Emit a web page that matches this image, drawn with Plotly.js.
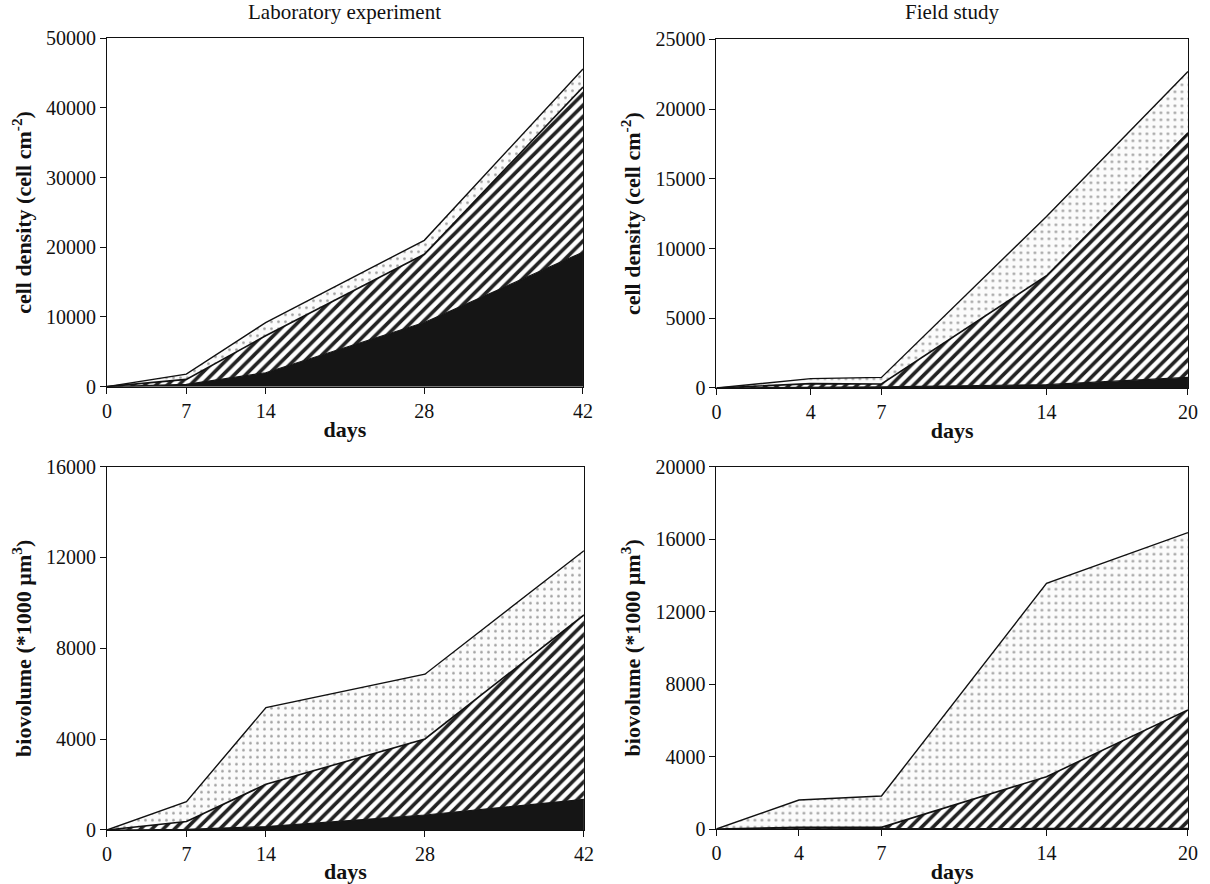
<!DOCTYPE html>
<html>
<head>
<meta charset="utf-8">
<script src="https://cdn.plot.ly/plotly-3.0.1.min.js"></script>
<style>html,body{margin:0;padding:0;background:#fff;}#chart{width:1210px;height:884px;}</style>
</head>
<body>
<div id="chart"></div>
<script>
// ---- data ----
const labDays = [0, 7, 14, 28, 42];
const labDayLabels = ["0", "7", "14", "28", "42"];
const fieldDaysTop = [0, 4, 7, 14, 20];
const fieldDaysBottom = [0, 3.5, 7, 14, 20];
const fieldDayLabels = ["0", "4", "7", "14", "20"];

// cell density, laboratory (layer values, stacked)
const labCellSolid  = [0, 330, 2000, 9200, 19300];
const labCellHatch  = [0, 720, 5300, 9800, 23700];
const labCellDots   = [0, 750, 1900, 2000, 2600];

// cell density, field
const fieldCellSolid = [0, 60, 80, 240, 760];
const fieldCellHatch = [0, 250, 210, 7810, 17540];
const fieldCellDots  = [0, 360, 470, 4250, 4400];

// biovolume, laboratory
const labBioSolid = [0, 30, 150, 660, 1350];
const labBioHatch = [0, 340, 1860, 3350, 8120];
const labBioDots  = [0, 880, 3380, 2850, 2830];

// biovolume, field
const fieldBioSolid = [0, 20, 20, 30, 40];
const fieldBioHatch = [0, 70, 70, 2860, 6530];
const fieldBioDots  = [0, 1510, 1730, 10670, 9790];

// ---- styling ----
const FONT = "Liberation Serif, Times New Roman, serif";
function layerTraces(x, solid, hatch, dots, xa, ya, grp) {
  return [
    {x: x, y: solid, xaxis: xa, yaxis: ya, stackgroup: grp, type: 'scatter', mode: 'lines',
     line: {color: '#151515', width: 1.2}, fillcolor: '#151515', hoverinfo: 'skip'},
    {x: x, y: hatch, xaxis: xa, yaxis: ya, stackgroup: grp, type: 'scatter', mode: 'lines',
     line: {color: '#111', width: 1.6}, fillcolor: '#ffffff',
     fillpattern: {shape: '/', size: 8, solidity: 0.45, fgcolor: '#222', bgcolor: '#ffffff'}, hoverinfo: 'skip'},
    {x: x, y: dots, xaxis: xa, yaxis: ya, stackgroup: grp, type: 'scatter', mode: 'lines',
     line: {color: '#111', width: 1.4}, fillcolor: '#ffffff',
     fillpattern: {shape: '.', size: 7, solidity: 0.12, fgcolor: '#9a9a9a', bgcolor: '#fbfbfb'}, hoverinfo: 'skip'}
  ];
}

const data = [].concat(
  layerTraces(labDays, labCellSolid, labCellHatch, labCellDots, 'x', 'y', 'a'),
  layerTraces(fieldDaysTop, fieldCellSolid, fieldCellHatch, fieldCellDots, 'x2', 'y2', 'b'),
  layerTraces(labDays, labBioSolid, labBioHatch, labBioDots, 'x3', 'y3', 'c'),
  layerTraces(fieldDaysBottom, fieldBioSolid, fieldBioHatch, fieldBioDots, 'x4', 'y4', 'd')
);

const tickFont = {family: FONT, size: 20, color: '#111'};
const titleFont = {family: FONT, size: 22, color: '#111'};

function xAxis(domain, anchor, vals, labels, maxv) {
  return {domain: domain, anchor: anchor, range: [0, maxv], tickvals: vals, ticktext: labels,
    showline: true, linecolor: '#111', linewidth: 1, mirror: true, ticks: 'outside', ticklen: 6,
    tickcolor: '#111', showgrid: false, zeroline: false, tickfont: tickFont,
    title: {text: '<b>days</b>', font: titleFont, standoff: 0}};
}
function yAxis(domain, anchor, maxv, dt, title) {
  return {domain: domain, anchor: anchor, range: [0, maxv], dtick: dt, tick0: 0,
    showline: true, linecolor: '#111', linewidth: 1, mirror: true, ticks: 'outside', ticklen: 6,
    tickcolor: '#111', showgrid: false, zeroline: false, tickfont: tickFont,
    tickformat: 'd',
    title: {text: title, font: titleFont, standoff: 8}};
}

const layout = {
  width: 1210, height: 884,
  margin: {l: 0, r: 0, t: 0, b: 0},
  paper_bgcolor: '#fff', plot_bgcolor: '#fff',
  showlegend: false,
  xaxis:  xAxis([0.0884, 0.4818], 'y',  labDays, labDayLabels, 42),
  yaxis:  yAxis([0.5626, 0.9567], 'x',  50000, 10000, '<b>cell density (cell cm<sup>-2</sup>)</b>'),
  xaxis2: xAxis([0.5921, 0.9818], 'y2', fieldDaysTop, fieldDayLabels, 20),
  yaxis2: yAxis([0.5611, 0.9555], 'x2', 25000, 5000, '<b>cell density (cell cm<sup>-2</sup>)</b>'),
  xaxis3: xAxis([0.0884, 0.4826], 'y3', labDays, labDayLabels, 42),
  yaxis3: yAxis([0.0611, 0.4721], 'x3', 16000, 4000, '<b>biovolume (*1000 µm<sup>3</sup>)</b>'),
  xaxis4: xAxis([0.5921, 0.9818], 'y4', fieldDaysBottom, fieldDayLabels, 20),
  yaxis4: yAxis([0.0622, 0.4721], 'x4', 20000, 4000, '<b>biovolume (*1000 µm<sup>3</sup>)</b>'),
  annotations: [
    {text: 'Laboratory experiment', xref: 'paper', yref: 'paper', x: 0.2851, y: 0.986,
     xanchor: 'center', yanchor: 'middle', showarrow: false, font: {family: FONT, size: 21, color: '#111'}},
    {text: 'Field study', xref: 'paper', yref: 'paper', x: 0.787, y: 0.986,
     xanchor: 'center', yanchor: 'middle', showarrow: false, font: {family: FONT, size: 21, color: '#111'}}
  ]
};

Plotly.newPlot('chart', data, layout, {displayModeBar: false, staticPlot: true});
</script>
</body>
</html>
